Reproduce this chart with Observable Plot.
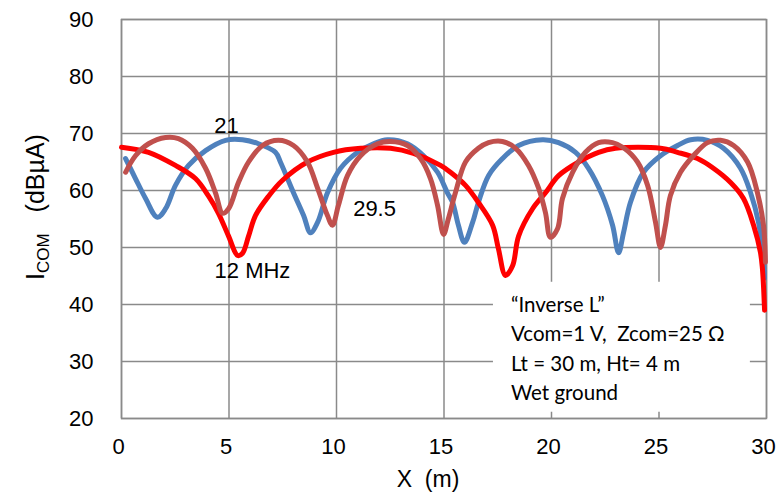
<!DOCTYPE html>
<html><head><meta charset="utf-8">
<script src="https://cdn.jsdelivr.net/npm/d3@7"></script>
<script src="https://cdn.jsdelivr.net/npm/@observablehq/plot@0.6"></script>
<style>
body{margin:0;background:#fff}
#chart{position:relative;width:780px;height:495px}
</style>
</head><body><div id="chart"></div>
<script>
// 12 MHz
const x12 = [0, 1.26, 2.51, 3.44, 4.05, 4.51, 4.98, 5.40, 5.63, 5.91, 6.23, 6.84, 7.49, 8.65, 9.86, 11.12, 12.51, 13.58, 14.84, 15.30, 16.00, 16.60, 17.26, 17.53, 17.86, 18.19, 18.47, 19.12, 19.72, 20.33, 21.26, 22.19, 22.98, 25.07, 25.86, 26.79, 27.53, 28.33, 28.93, 29.40, 29.72, 29.81, 29.91];
const y12 = [67.6, 66.7, 64.4, 62.1, 59.0, 56.0, 52.0, 48.6, 49.0, 52.0, 55.6, 59.0, 61.8, 65.0, 66.7, 67.4, 67.4, 66.5, 64.4, 63.2, 60.9, 57.9, 53.9, 49.8, 45.1, 46.8, 52.0, 56.8, 59.6, 62.6, 65.0, 66.7, 67.4, 67.4, 66.7, 65.6, 63.9, 61.4, 58.6, 53.9, 49.1, 46.3, 39.0];
// 21 MHz
const x21 = [0.19, 0.65, 1.12, 1.67, 2.05, 2.51, 3.12, 3.91, 4.84, 5.63, 6.37, 7.16, 7.40, 8.00, 8.47, 8.79, 9.12, 9.58, 10.19, 10.98, 11.72, 12.37, 13.30, 14.05, 14.70, 15.16, 15.40, 15.67, 15.95, 16.33, 16.60, 17.07, 17.72, 18.47, 19.58, 20.33, 21.12, 21.72, 22.37, 22.84, 23.12, 23.35, 23.67, 24.28, 25.07, 25.86, 26.47, 27.26, 28.00, 28.79, 29.26, 29.63, 29.86, 29.91];
const y21 = [65.6, 62.1, 58.6, 55.3, 56.8, 60.9, 64.4, 67.0, 68.8, 68.9, 68.2, 66.7, 64.9, 59.6, 55.6, 52.6, 54.4, 59.6, 63.9, 66.7, 68.2, 68.9, 68.2, 66.1, 63.2, 59.6, 57.9, 53.9, 50.9, 54.4, 57.9, 62.6, 65.6, 67.9, 68.9, 68.4, 66.7, 63.9, 59.1, 53.9, 49.1, 52.6, 57.9, 63.2, 66.1, 67.9, 68.9, 68.8, 67.4, 63.9, 59.6, 54.4, 48.0, 44.6];
// 29.5 MHz
const x29 = [0.19, 0.65, 1.26, 2.05, 2.65, 3.30, 3.91, 4.37, 4.70, 4.98, 5.44, 5.91, 6.56, 7.30, 8.00, 8.65, 9.12, 9.58, 9.81, 10.09, 10.51, 11.12, 11.91, 12.51, 13.30, 13.91, 14.37, 14.70, 14.98, 15.20, 15.53, 16.00, 16.60, 17.07, 17.72, 18.33, 18.93, 19.40, 19.72, 19.95, 20.28, 20.51, 20.98, 21.58, 22.19, 22.84, 23.35, 24.00, 24.47, 24.84, 25.07, 25.30, 25.53, 26.00, 26.60, 27.26, 27.86, 28.47, 29.12, 29.58, 29.86, 29.95];
const y29 = [63.2, 66.1, 68.2, 69.3, 69.1, 67.4, 63.9, 59.6, 56.0, 56.8, 61.4, 65.0, 67.9, 68.8, 67.9, 65.0, 60.4, 55.6, 53.9, 57.4, 62.6, 66.1, 68.2, 68.6, 67.9, 65.6, 62.1, 57.4, 52.3, 55.0, 59.6, 65.0, 67.4, 68.4, 68.6, 67.4, 64.4, 60.4, 56.1, 51.8, 53.3, 58.6, 63.2, 66.7, 68.4, 68.4, 67.5, 65.0, 60.9, 54.4, 50.0, 53.9, 59.1, 63.2, 66.1, 68.4, 68.8, 67.9, 65.0, 59.6, 53.9, 47.4];

const xTicks = [0, 5, 10, 15, 20, 25, 30];
const yTicks = [20, 30, 40, 50, 60, 70, 80, 90];
const labelText = ["21", "29.5", "12 MHz"];
const labelX = [4.88, 11.77, 6.09];
const labelY = [71.4, 56.8, 45.8];
const noteLines = ["\u201CInverse L\u201D", "Vcom=1 V,  Zcom=25 \u03A9", "Lt = 30 m, Ht= 4 m", "Wet ground"];

const toRows = (xs, ys) => xs.map((x, i) => ({x, y: ys[i]}));
const s12 = toRows(x12, y12), s21 = toRows(x21, y21), s29 = toRows(x29, y29);
const labels = labelText.map((t, i) => ({t, x: labelX[i], y: labelY[i]}));

const gridColor = "#8a8a8a";
const fontAx = "Liberation Sans, Arial, sans-serif";
const lineStyle = {strokeWidth: 5, strokeLinejoin: "round", strokeLinecap: "round", curve: "catmull-rom"};

const plot = Plot.plot({
  width: 780, height: 495,
  marginLeft: 121, marginRight: 14, marginTop: 19, marginBottom: 77,
  style: {fontFamily: fontAx, fontSize: "22px", color: "#000", background: "#fff"},
  x: {domain: [0, 30], ticks: xTicks, label: null},
  y: {domain: [20, 90], ticks: yTicks, label: null},
  marks: [
    Plot.gridX(xTicks, {stroke: gridColor, strokeOpacity: 1, strokeWidth: 1.5}),
    Plot.gridY(yTicks, {stroke: gridColor, strokeOpacity: 1, strokeWidth: 1.5}),
    Plot.axisX(xTicks, {tickSize: 0, tickPadding: 20, dx: -3, fontSize: 22}),
    Plot.axisY(yTicks, {tickSize: 0, tickPadding: 28, fontSize: 22}),
    Plot.rect([{x1: 17.3, x2: 29.25, y1: 21.1, y2: 43.9}], {x1: "x1", x2: "x2", y1: "y1", y2: "y2", fill: "#fff"}),
    Plot.frame({stroke: gridColor, strokeWidth: 1.5}),
    Plot.line(s21, {x: "x", y: "y", stroke: "#4F81BD", ...lineStyle}),
    Plot.line(s12, {x: "x", y: "y", stroke: "#FF0000", ...lineStyle}),
    Plot.line(s29, {x: "x", y: "y", stroke: "#C0504D", ...lineStyle}),
    Plot.text(labels, {x: "x", y: "y", text: "t", fontSize: 22, fill: "#000"})
  ]
});
document.getElementById("chart").appendChild(plot);

const svg = d3.select(plot);
const note = svg.append("text")
  .attr("text-anchor", "start")
  .attr("font-family", "Lato, 'Open Sans', sans-serif")
  .attr("font-size", 20.5).attr("fill", "#000");
noteLines.forEach((l, i) => {
  note.append("tspan").attr("x", 511).attr("y", 312 + i * 29.3).text(l);
});
const yt = svg.append("text")
  .attr("transform", "translate(44,207) rotate(-90)")
  .attr("text-anchor", "middle")
  .attr("font-family", fontAx).attr("font-size", 25).attr("fill", "#000");
yt.append("tspan").text("I");
yt.append("tspan").attr("font-size", 17).attr("dy", 5).text("COM");
yt.append("tspan").attr("dy", -5).text("\u00A0\u00A0\u00A0(dB\u00B5A)");
svg.append("text").attr("x", 428).attr("y", 487).attr("text-anchor", "middle")
  .attr("font-family", fontAx).attr("font-size", 23).attr("fill", "#000")
  .text("X\u00A0\u00A0(m)");
</script>
</body></html>
